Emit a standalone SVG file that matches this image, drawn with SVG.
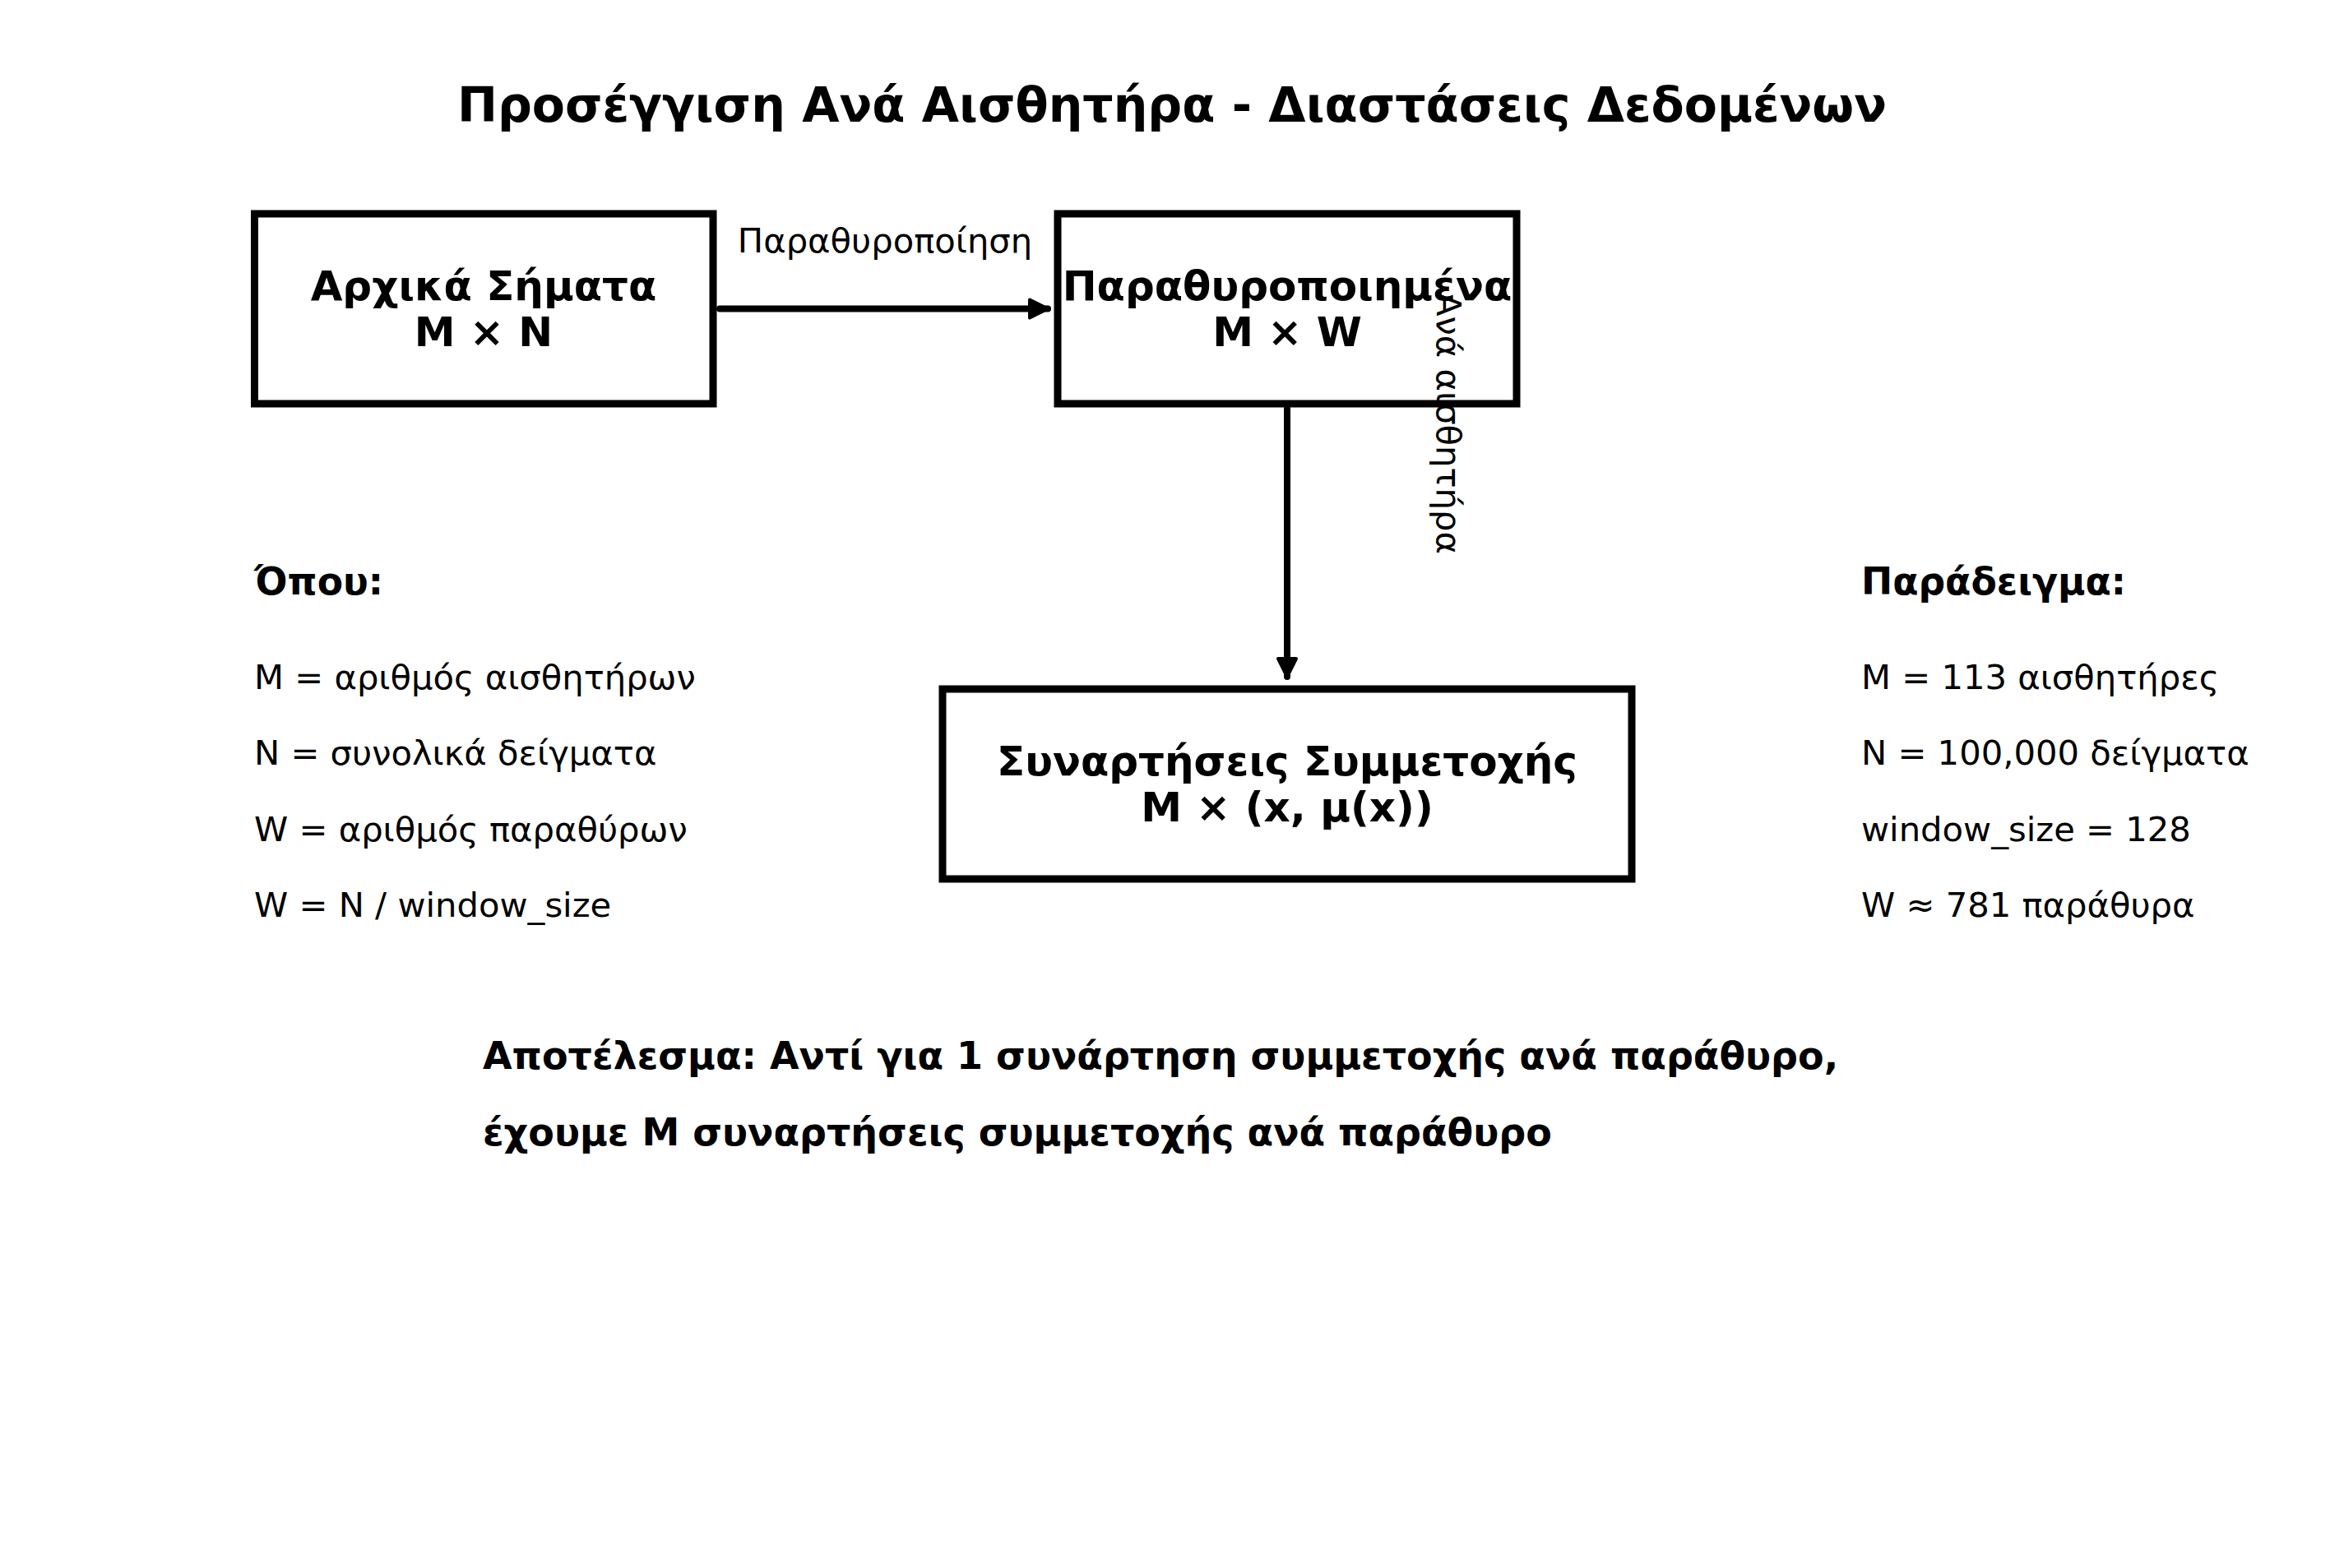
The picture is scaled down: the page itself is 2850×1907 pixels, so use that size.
<svg xmlns="http://www.w3.org/2000/svg" width="2850" height="1907" viewBox="0 0 2850 1907">
  <style>
    text { font-family: "DejaVu Sans", "Liberation Sans", sans-serif; fill: #000; }
    .title { font-size: 58.5px; font-weight: bold; text-anchor: middle; }
    .box { fill: #fff; stroke: #000; stroke-width: 9; }
    .btxt { font-size: 50px; font-weight: bold; text-anchor: middle; }
    .lbl { font-size: 41.7px; }
    .hd { font-size: 45.6px; font-weight: bold; }
    .res { font-size: 46px; font-weight: bold; }
    .conn { stroke: #000; stroke-width: 8; fill: none; stroke-linecap: round; }
  </style>
  <defs>
    <marker id="ah" markerUnits="userSpaceOnUse" viewBox="0 0 28 28" refX="25" refY="14" markerWidth="28" markerHeight="28" orient="auto">
      <path d="M3,3 L25,14 L3,25 Z" fill="#000" stroke="#000" stroke-width="4" stroke-linejoin="round"/>
    </marker>
  </defs>
  <rect width="2850" height="1907" fill="#fff"/>

  <text class="title" x="1425" y="148">Προσέγγιση Ανά Αισθητήρα - Διαστάσεις Δεδομένων</text>

  <g id="node-raw">
    <rect class="box" x="309.5" y="260" width="557.5" height="231"/>
    <text class="btxt" x="588" y="365">Αρχικά Σήματα</text>
    <text class="btxt" x="588" y="421">M × N</text>
  </g>

  <g id="node-windowed">
    <rect class="box" x="1286" y="260" width="558" height="231"/>
    <text class="btxt" x="1565" y="365">Παραθυροποιημένα</text>
    <text class="btxt" x="1565" y="421">M × W</text>
  </g>

  <g id="node-membership">
    <rect class="box" x="1146" y="838" width="838" height="231"/>
    <text class="btxt" x="1565" y="943">Συναρτήσεις Συμμετοχής</text>
    <text class="btxt" x="1565" y="999">M × (x, μ(x))</text>
  </g>

  <g id="connectors">
    <path class="conn" d="M875,375.5 L1274,375.5" marker-end="url(#ah)"/>
    <path class="conn" d="M1565,497 L1565,823" marker-end="url(#ah)"/>
    <text class="lbl" x="1076" y="307" text-anchor="middle">Παραθυροποίηση</text>
    <text class="lbl" x="1747" y="515" text-anchor="middle" transform="rotate(90 1747 515)">Ανά αισθητήρα</text>
  </g>

  <g id="legend-where">
    <text class="hd" x="309" y="723">Όπου:</text>
    <text class="lbl" x="309" y="838">M = αριθμός αισθητήρων</text>
    <text class="lbl" x="309" y="930">N = συνολικά δείγματα</text>
    <text class="lbl" x="309" y="1023">W = αριθμός παραθύρων</text>
    <text class="lbl" x="309" y="1115">W = N / window_size</text>
  </g>

  <g id="legend-example">
    <text class="hd" x="2263" y="723">Παράδειγμα:</text>
    <text class="lbl" x="2263" y="838">M = 113 αισθητήρες</text>
    <text class="lbl" x="2263" y="930">N = 100,000 δείγματα</text>
    <text class="lbl" x="2263" y="1023">window_size = 128</text>
    <text class="lbl" x="2263" y="1115">W ≈ 781 παράθυρα</text>
  </g>

  <g id="result">
    <text class="res" x="587" y="1300">Αποτέλεσμα: Αντί για 1 συνάρτηση συμμετοχής ανά παράθυρο,</text>
    <text class="res" x="587" y="1393">έχουμε M συναρτήσεις συμμετοχής ανά παράθυρο</text>
  </g>
</svg>
